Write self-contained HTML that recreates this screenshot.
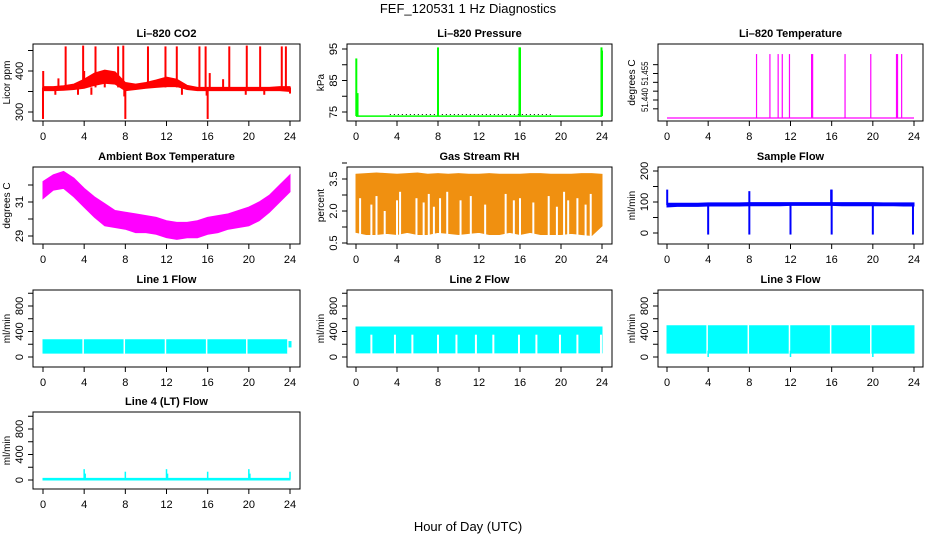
<!DOCTYPE html>
<html><head><meta charset="utf-8"><style>
html,body{margin:0;padding:0;background:#fff}
svg{display:block}
text{font-family:"Liberation Sans",sans-serif;fill:#000}
</style></head><body>
<svg id="c" width="936" height="540" viewBox="0 0 936 540">
<text x="468" y="13" font-size="13" text-anchor="middle">FEF_120531  1 Hz Diagnostics</text>
<text x="468" y="531" font-size="13" text-anchor="middle">Hour of Day (UTC)</text>
</svg>
<script>
// ---- data ----
const hours = [0,1,2,3,4,5,6,7,8,9,10,11,12,13,14,15,16,17,18,19,20,21,22,23,24];
const xTicks = [0,4,8,12,16,20,24];
// CO2
const co2Lo = [352,352,353,355,358,365,370,368,352,355,358,360,362,362,355,352,352,352,352,352,352,352,352,352,350];
const co2Hi = [362,362,364,368,380,395,402,398,372,368,372,378,385,380,365,360,360,360,360,360,360,360,360,362,362];
const co2SpikeT = [0.02,1.5,2.2,3.9,4.0,5.1,6.0,7.3,7.8,10.2,11.9,13.0,15.2,15.8,16.2,17.5,18.1,19.8,21.1,23.2,23.6];
const co2SpikeV = [400,382,460,462,400,460,400,460,462,460,460,460,460,460,395,380,460,462,460,460,460];
const co2DipT = [0.0,1.2,3.4,4.7,7.9,8.0,13.5,15.9,16.0,19.7,21.5,24.0];
const co2DipV = [283,342,342,342,338,283,342,340,283,342,342,345];
// Pressure
const presBase = 73.7;
const presSpikeT = [0.03,0.15,8.0,15.95,16.0,23.95,24.0];
const presSpikeV = [92,81,95.5,95.5,95.5,95.5,94.5];
// Li-820 temperature
const ltBase = 51.4298;
const ltSpikeT = [8.7,10.0,10.8,11.2,11.9,14.05,14.15,17.3,19.8,22.3,22.4,22.8];
const ltSpikeV = [51.466,51.466,51.466,51.466,51.466,51.466,51.466,51.466,51.466,51.466,51.466,51.466];
// Ambient box temperature
const ambLo = [31.2,31.7,31.8,31.3,30.7,30.1,29.6,29.5,29.4,29.2,29.2,29.1,28.9,28.8,28.9,28.9,29.1,29.2,29.4,29.5,29.6,29.9,30.4,31.0,31.6];
const ambHi = [32.2,32.6,32.8,32.4,31.8,31.3,30.9,30.5,30.4,30.3,30.2,30.1,29.9,29.8,29.8,29.9,30.1,30.2,30.3,30.5,30.7,31.0,31.4,32.0,32.6];
// Gas stream RH
const rhHi = [3.72,3.75,3.78,3.75,3.72,3.75,3.78,3.72,3.75,3.72,3.75,3.72,3.72,3.75,3.72,3.72,3.72,3.75,3.75,3.72,3.72,3.72,3.75,3.75,3.72];
const rhLo = [1.0,0.9,0.9,0.95,0.9,1.0,0.9,0.9,1.0,0.95,0.9,0.95,1.0,0.9,0.9,1.0,0.9,1.0,0.9,0.9,0.9,0.95,0.9,0.85,1.3];
const rhGapT = [0.4,1.5,2.0,2.8,4.0,4.3,5.9,6.6,7.1,7.6,8.2,8.9,10.2,11.2,12.6,14.6,15.4,16.0,17.3,18.8,19.6,20.3,20.7,21.6,22.4,22.9];
const rhGapV = [2.6,2.3,2.7,2.0,2.5,2.9,2.6,2.4,2.8,2.2,2.6,2.9,2.5,2.7,2.3,2.8,2.5,2.6,2.4,2.7,2.2,2.9,2.5,2.6,2.3,2.8];
// Sample flow
const sfLo = [84,86,86,86,87,87,87,87,88,88,88,88,89,89,89,89,89,88,88,88,88,88,88,87,87];
const sfHi = [96,96,96,96,97,97,97,97,98,98,98,98,98,98,98,98,98,98,98,98,98,97,97,97,97];
const sfDipT = [4,8,12,16,20,23.9];
const sfDipV = [-5,-5,-5,-5,-5,-5];
const sfSpikeT = [0.02,8.0,15.95,16.0];
const sfSpikeV = [140,135,140,140];
// Line flows
const l1Lo = 60, l1Hi = 270;
const l1GapT = [3.9,7.9,11.9,15.9,19.8,23.8];
const l2Lo = 65, l2Hi = 470;
const l2GapT = [1.5,3.8,5.5,8.0,9.8,11.7,13.4,15.9,17.6,19.9,21.6,23.9];
const l2GapV = [350,350,350,350,350,350,350,350,350,350,350,350];
const l3Lo = 60, l3Hi = 490;
const l3GapT = [3.9,7.9,11.9,15.9,19.8];
const l3DipT = [4,12,20];
const l3DipV = [0,0,0];
const l4Lo = 0, l4Hi = 25;
const l4SpikeT = [4,4.1,8,12,12.1,16,20,20.1,24];
const l4SpikeV = [170,100,130,170,100,130,170,100,130];

// ---- layout ----
const NS = 'http://www.w3.org/2000/svg';
const svg = document.getElementById('c');
const cols = [[33,300,43,290],[347,612,356,602],[658,923,667,914]];
const rowTop = [44,167,290,412];
const BH = 77;
function el(tag, attrs, parent){
  const e = document.createElementNS(NS, tag);
  for (const k in attrs) e.setAttribute(k, attrs[k]);
  (parent||svg).appendChild(e);
  return e;
}
function panel(name, title, ytitle, col, row, yv1, yp1, yv2, yp2, yTickVals, yLabels, yfs, ylen){
  const c = cols[col], top = rowTop[row], bot = top + BH;
  const g = el('g', {});
  
  
  const sx = h => c[2] + h * (c[3]-c[2]) / 24;
  const sy = v => yp1 + (v - yv1) * (yp2 - yp1) / (yv2 - yv1);
  const clipId = 'clip-' + name;
  const cp = el('clipPath', {id: clipId}, g);
  el('rect', {x:c[0], y:top, width:c[1]-c[0], height:BH}, cp);
  const plot = el('g', {'clip-path':'url(#'+clipId+')'}, g);
  
  
  const t = el('text', {x:(c[0]+c[1])/2, y:top-7, 'font-size':11, 'font-weight':'bold', 'text-anchor':'middle'}, g);
  t.textContent = title;
  
  
  const xa = el('g', {}, g);
  
  
  el('line', {x1:sx(0), x2:sx(24), y1:bot, y2:bot, stroke:'#000'}, xa);
  xTicks.forEach(v => {
    el('line', {x1:sx(v), x2:sx(v), y1:bot, y2:bot+5, stroke:'#000'}, xa);
    const tl = el('text', {x:sx(v), y:bot+19, 'font-size':11, 'text-anchor':'middle'}, xa);
    tl.textContent = v;
  });
  const ya = el('g', {}, g);
  
  
  yTickVals.forEach((v,i) => {
    const y = sy(v);
    el('line', {x1:c[0]-5, x2:c[0], y1:y, y2:y, stroke:'#000'}, ya);
    if (yLabels[i] !== '') {
      const attrs = {x:0, y:0, 'font-size':yfs||11, 'text-anchor':'middle', transform:'translate('+(c[0]-10)+','+y+') rotate(-90)'};
      if (ylen) { attrs.textLength = ylen; attrs.lengthAdjust = 'spacingAndGlyphs'; }
      const tl = el('text', attrs, ya);
      tl.textContent = yLabels[i];
    }
  });
  const yt = el('text', {x:0, y:0, 'font-size':10, 'text-anchor':'middle', transform:'translate('+(c[0]-23)+','+((top+bot)/2)+') rotate(-90)'}, g);
  yt.textContent = ytitle;
  
  
  const box = {g, plot, sx, sy, top, bot, c};
  box.finish = () => { el('rect', {x:c[0], y:top, width:c[1]-c[0], height:BH, fill:'none', stroke:'#000'}, g); };
  return box;
}
function band(p, tArr, lo, hi, fill, nm){
  let pts = tArr.map((t,i) => p.sx(t)+','+p.sy(hi[i]));
  for (let i = tArr.length-1; i >= 0; i--) pts.push(p.sx(tArr[i])+','+p.sy(lo[i]));
  const e = el('polygon', {points:pts.join(' '), fill:fill, stroke:fill, 'stroke-width':1}, p.plot);
  
  
  return e;
}
function vlines(p, tArr, vArr, base, color, w, nm){
  tArr.forEach((t,i) => {
    const e = el('line', {x1:p.sx(t), x2:p.sx(t), y1:p.sy(base), y2:p.sy(vArr[i]), stroke:color, 'stroke-width':w}, p.plot);
    
    
  });
}
const flat = (v) => hours.map(() => v);

// CO2
let p = panel('co2','Li\u2013820 CO2','Licor ppm',0,0,300,112,400,71,[300,350,400,450],['300','','400','']);
band(p, hours, co2Lo, co2Hi, '#ff0000', 'co2-band');
vlines(p, co2SpikeT, co2SpikeV, 360, '#ff0000', 2, 'co2-spike');
vlines(p, co2DipT, co2DipV, 360, '#ff0000', 2, 'co2-dip');
p.finish();

// Pressure
p = panel('pressure','Li\u2013820 Pressure','kPa',1,0,75,112,95,49,[75,80,85,90,95],['75','','85','','95']);
const pd = el('line', {x1:p.sx(3.3), x2:p.sx(19), y1:p.sy(74.2), y2:p.sy(74.2), stroke:'#000', 'stroke-width':1, 'stroke-dasharray':'1,3'}, p.plot);


const pl = el('line', {x1:p.sx(0), x2:p.sx(24), y1:p.sy(presBase), y2:p.sy(presBase), stroke:'#00ff00', 'stroke-width':1.5}, p.plot);


vlines(p, presSpikeT, presSpikeV, presBase, '#00ff00', 2, 'pressure-spike');
p.finish();

// Li-820 temperature
p = panel('li820-temp','Li\u2013820 Temperature','degrees C',2,0,51.440,100,51.455,73.5,[51.435,51.440,51.445,51.450,51.455,51.460],['','51.440','','','51.455',''],9,24);
const tl0 = el('line', {x1:p.sx(0), x2:p.sx(24), y1:p.sy(ltBase), y2:p.sy(ltBase), stroke:'#ff00ff', 'stroke-width':1.2}, p.plot);


vlines(p, ltSpikeT, ltSpikeV, ltBase, '#ff00ff', 1.2, 'li820-temp-spike');
p.finish();

// Ambient
p = panel('ambient-temp','Ambient Box Temperature','degrees C',0,1,31,202,29,236,[29,30,31,32],['29','','31','']);
band(p, hours, ambLo, ambHi, '#ff00ff', 'ambient-temp-band');
p.finish();

// RH
p = panel('gas-rh','Gas Stream RH','percent',1,1,0.5,243,3.5,179,[0.5,1.25,2.0,2.75,3.5,4.25],['0.5','','2.0','','3.5','']);
band(p, hours, rhLo, rhHi, '#f09010', 'gas-rh-band');
vlines(p, rhGapT, rhGapV, 0.4, '#ffffff', 2, 'gas-rh-gap');
p.finish();

// Sample flow
p = panel('sample-flow','Sample Flow','ml/min',2,1,0,233,200,171,[0,50,100,150,200],['0','','100','','200']);
band(p, hours, sfLo, sfHi, '#0000ff', 'sample-flow-band');
vlines(p, sfDipT, sfDipV, 90, '#0000ff', 2, 'sample-flow-dip');
vlines(p, sfSpikeT, sfSpikeV, 90, '#0000ff', 2, 'sample-flow-spike');
p.finish();

const flowTicks = [0,200,400,600,800,1000], flowLabels = ['0','','400','','800',''];
// Line 1
p = panel('line1-flow','Line 1 Flow','ml/min',0,2,0,357,800,306,flowTicks,flowLabels);
band(p, hours.slice(0,24).concat([23.8]), flat(l1Lo).slice(0,25), flat(l1Hi).slice(0,25), '#00ffff', 'line1-flow-band');
vlines(p, l1GapT, flat(l1Hi+20), l1Lo-10, '#ffffff', 1.5, 'line1-flow-gap');
vlines(p, [24], [250], 150, '#00ffff', 3, 'line1-flow-end');
p.finish();

// Line 2
p = panel('line2-flow','Line 2 Flow','ml/min',1,2,0,357,800,306,flowTicks,flowLabels);
band(p, hours, flat(l2Lo), flat(l2Hi), '#00ffff', 'line2-flow-band');
vlines(p, l2GapT, l2GapV, l2Lo-10, '#ffffff', 2, 'line2-flow-gap');
p.finish();

// Line 3
p = panel('line3-flow','Line 3 Flow','ml/min',2,2,0,357,800,306,flowTicks,flowLabels);
band(p, hours, flat(l3Lo), flat(l3Hi), '#00ffff', 'line3-flow-band');
vlines(p, l3GapT, flat(l3Hi+20), l3Lo-10, '#ffffff', 1.5, 'line3-flow-gap');
vlines(p, l3DipT, l3DipV, 100, '#00ffff', 1.5, 'line3-flow-dip');
p.finish();

// Line 4
p = panel('line4-flow','Line 4 (LT) Flow','ml/min',0,3,0,480,800,429,flowTicks,flowLabels);
band(p, hours, flat(l4Lo), flat(l4Hi), '#00ffff', 'line4-flow-band');
vlines(p, l4SpikeT, l4SpikeV, 10, '#00ffff', 1.5, 'line4-flow-spike');
p.finish();
</script>
</body></html>
